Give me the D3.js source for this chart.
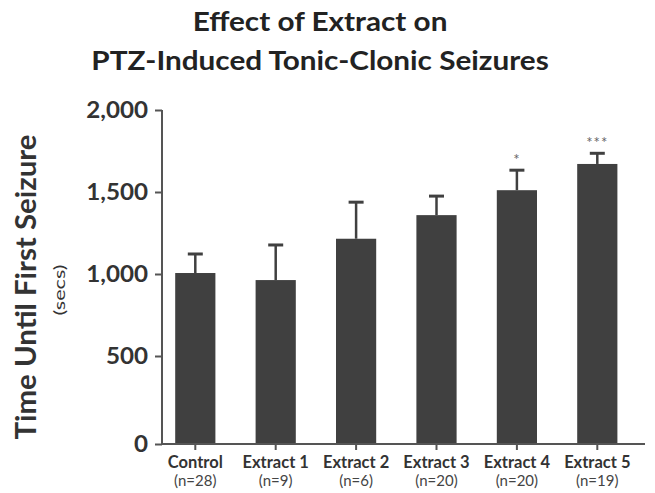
<!DOCTYPE html>
<html>
<head>
<meta charset="utf-8">
<script src="https://cdn.jsdelivr.net/npm/d3@7"></script>
<style>
  body { margin: 0; background: #fff; }
  svg { display: block; font-family: Lato, "Open Sans", sans-serif; }
</style>
</head>
<body>
<svg id="chart" width="655" height="493"></svg>
<script>
const categories = ["Control", "Extract 1", "Extract 2", "Extract 3", "Extract 4", "Extract 5"];
const sampleSizes = ["(n=28)", "(n=9)", "(n=6)", "(n=20)", "(n=20)", "(n=19)"];
const means = [1006, 963, 1215, 1359, 1511, 1671];
const errorTops = [1122, 1177, 1438, 1475, 1633, 1736];
const significance = ["", "", "", "", "*", "***"];
const yTicks = [0, 500, 1000, 1500, 2000];
const titleLines = ["Effect of Extract on", "PTZ-Induced Tonic-Clonic Seizures"];

const svg = d3.select("#chart");
const barColor = "#404040";
const axisColor = "#555555";
const textColor = "#333333";

const x = d3.scaleBand().domain(categories).range([135, 657.6]).paddingInner(0.5).paddingOuter(0.5);
const y = d3.scaleLinear().domain([0, 500, 2000]).range([444, 356, 110]);
const axisX = 162;
const axisRight = 645;

// Title
svg.append("g").selectAll("text").data(titleLines).join("text")
  .attr("transform", (d, i) => `translate(320,${31 + i * 39}) scale(1.1,1)`)
  .attr("text-anchor", "middle")
  .attr("font-size", 27).attr("font-weight", 700)
  .attr("fill", "#222").text(d => d);

// Bars
svg.append("g").selectAll("rect").data(categories).join("rect")
  .attr("x", d => x(d)).attr("width", x.bandwidth())
  .attr("y", (d, i) => y(means[i]))
  .attr("height", (d, i) => y(0) + 1 - y(means[i]))
  .attr("fill", barColor);

// Error bars
const eb = svg.append("g");
eb.selectAll("line.stem").data(categories).join("line").attr("class", "stem")
  .attr("x1", d => x(d) + x.bandwidth() / 2).attr("x2", d => x(d) + x.bandwidth() / 2)
  .attr("y1", (d, i) => y(means[i])).attr("y2", (d, i) => y(errorTops[i]))
  .attr("stroke", barColor).attr("stroke-width", 2.5);
eb.selectAll("line.cap").data(categories).join("line").attr("class", "cap")
  .attr("x1", d => x(d) + x.bandwidth() / 2 - 7.5).attr("x2", d => x(d) + x.bandwidth() / 2 + 7.5)
  .attr("y1", (d, i) => y(errorTops[i])).attr("y2", (d, i) => y(errorTops[i]))
  .attr("stroke", barColor).attr("stroke-width", 3);

// Significance
svg.append("g").selectAll("text").data(categories).join("text")
  .attr("x", d => x(d) + x.bandwidth() / 2)
  .attr("y", (d, i) => y(errorTops[i]) - 5)
  .attr("text-anchor", "middle").attr("font-size", 15)
  .attr("fill", "#666").attr("letter-spacing", 1)
  .text((d, i) => significance[i]);

// Y axis
const yAxis = svg.append("g").attr("transform", `translate(${axisX},0)`)
  .call(d3.axisLeft(y).tickValues(yTicks).tickSize(7).tickPadding(7).tickFormat(d3.format(",")));
yAxis.select(".domain").attr("d", `M0,${y(2000)}V${y(0) + 1}`).attr("stroke", axisColor).attr("stroke-width", 2);
yAxis.selectAll(".tick line").attr("stroke", axisColor).attr("stroke-width", 2);
yAxis.selectAll(".tick text")
  .attr("x", 0).attr("transform", "translate(-14,0) scale(1.1,1)")
  .attr("font-size", 22).attr("font-weight", 700)
  .attr("fill", textColor).attr("font-family", "Lato, sans-serif");

// X axis
const xAxis = svg.append("g").attr("transform", `translate(0,${y(0)})`)
  .call(d3.axisBottom(x).tickSize(6).tickFormat(""));
xAxis.select(".domain").attr("d", `M${axisX},0H${axisRight}`).attr("stroke", axisColor).attr("stroke-width", 2);
xAxis.selectAll(".tick line").attr("stroke", axisColor).attr("stroke-width", 2);

// X labels
const xl = svg.append("g");
xl.selectAll("text.cat").data(categories).join("text").attr("class", "cat")
  .attr("x", d => x(d) + x.bandwidth() / 2).attr("y", 468)
  .attr("text-anchor", "middle").attr("font-size", 16.5).attr("font-weight", 700)
  .attr("fill", textColor).text(d => d);
xl.selectAll("text.n").data(categories).join("text").attr("class", "n")
  .attr("x", d => x(d) + x.bandwidth() / 2).attr("y", 486)
  .attr("text-anchor", "middle").attr("font-size", 15).attr("font-weight", 400)
  .attr("fill", "#444").text((d, i) => sampleSizes[i]);

// Y axis title
svg.append("text")
  .attr("transform", "translate(36,287) rotate(-90) scale(1.05,1)")
  .attr("text-anchor", "middle").attr("font-size", 28).attr("font-weight", 700)
  .attr("fill", textColor).text("Time Until First Seizure");
svg.append("text")
  .attr("transform", "translate(65,290) rotate(-90) scale(1.35,1)")
  .attr("text-anchor", "middle").attr("font-size", 16).attr("font-weight", 400)
  .attr("fill", textColor).text("(secs)");
</script>
</body>
</html>
